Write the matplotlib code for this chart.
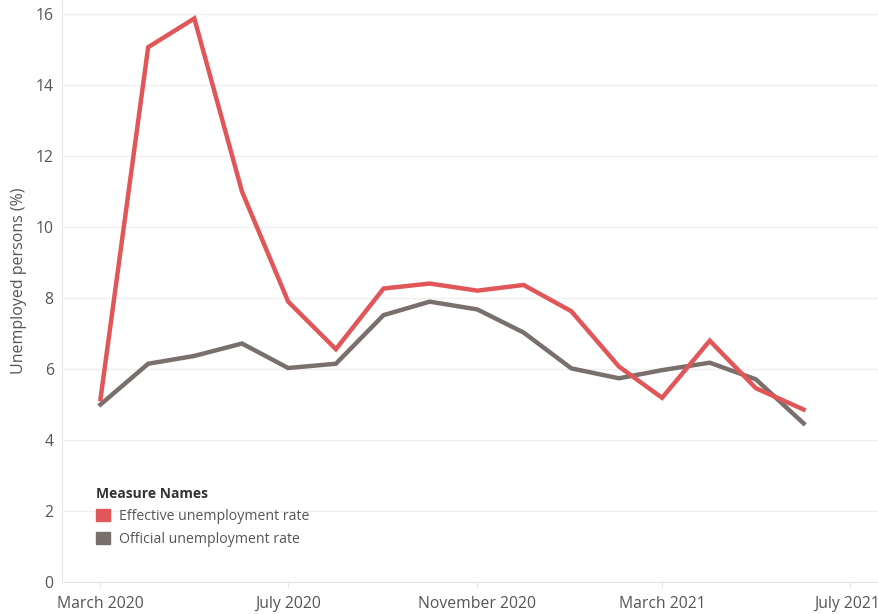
import matplotlib
matplotlib.use("Agg")
import matplotlib.pyplot as plt
import matplotlib.transforms as mtransforms
from matplotlib.patches import Patch
import pandas as pd

months = pd.date_range("2020-03-01", "2021-06-01", freq="MS")
effective = [5.15, 15.07, 15.88, 11.0, 7.9, 6.56, 8.27, 8.41, 8.21, 8.37, 7.63, 6.07, 5.19, 6.80, 5.46, 4.86]
official = [5.0, 6.15, 6.37, 6.72, 6.03, 6.15, 7.52, 7.90, 7.68, 7.03, 6.02, 5.74, 5.97, 6.18, 5.71, 4.47]
tick_dates = pd.to_datetime(["2020-03-01", "2020-07-01", "2020-11-01", "2021-03-01", "2021-07-01"])
tick_labels = ["March 2020", "July 2020", "November 2020", "March 2021", "July 2021"]
y_ticks = [0, 2, 4, 6, 8, 10, 12, 14, 16]
series_names = ["Effective unemployment rate", "Official unemployment rate"]
colors = ["#e15759", "#79706e"]

plt.rcParams["font.family"] = ["Open Sans", "DejaVu Sans"]

fig = plt.figure(figsize=(8.79, 6.14), dpi=100)
ax = fig.add_axes([62 / 879, 1 - 582 / 614, 1 - 62 / 879, 582 / 614])

ax.plot(months, official, color=colors[1], lw=3.2, solid_joinstyle="miter", zorder=3)
ax.plot(months, effective, color=colors[0], lw=3.2, solid_joinstyle="miter", zorder=4)

ax.set_xlim(pd.Timestamp("2020-02-05"), pd.Timestamp("2021-07-20"))
ax.set_ylim(0, 16.4)
ax.set_xticks(tick_dates)
ax.set_xticklabels(tick_labels)
ax.set_yticks(y_ticks)
ax.set_yticklabels([str(v) for v in y_ticks])

ax.grid(axis="y", color="#efefef", lw=0.9)
ax.set_axisbelow(True)
for s in ["top", "right"]:
    ax.spines[s].set_visible(False)
ax.spines["left"].set_color("#e6e6e6")
ax.spines["bottom"].set_color("#e6e6e6")
ax.tick_params(axis="x", length=4, color="#e6e6e6", labelsize=11.3, labelcolor="#555555", pad=6)
ax.tick_params(axis="y", length=0, labelsize=11.3, labelcolor="#555555", pad=6)

# keep the last x label inside the picture
last = ax.get_xticklabels()[-1]
last.set_transform(last.get_transform() + mtransforms.ScaledTranslation(-3 / 100, 0, fig.dpi_scale_trans))

ax.set_ylabel("Unemployed persons (%)", fontsize=11.5, color="#555555")
ax.yaxis.set_label_coords(-0.043, 0.517)

handles = [Patch(facecolor=c, edgecolor=c) for c in colors]
leg = ax.legend(handles, series_names, title="Measure Names", loc="upper left",
                bbox_to_anchor=(24 / 817, 1 - 477 / 582), frameon=False,
                fontsize=10.2, title_fontsize=10, handlelength=1.0, handleheight=1.0,
                handletextpad=0.6, labelspacing=0.55, alignment="left", borderpad=0.2)
leg.get_title().set_fontweight("bold")
leg.get_title().set_color("#333333")
for t in leg.get_texts():
    t.set_color("#555555")

fig.savefig("out.png", dpi=100)
